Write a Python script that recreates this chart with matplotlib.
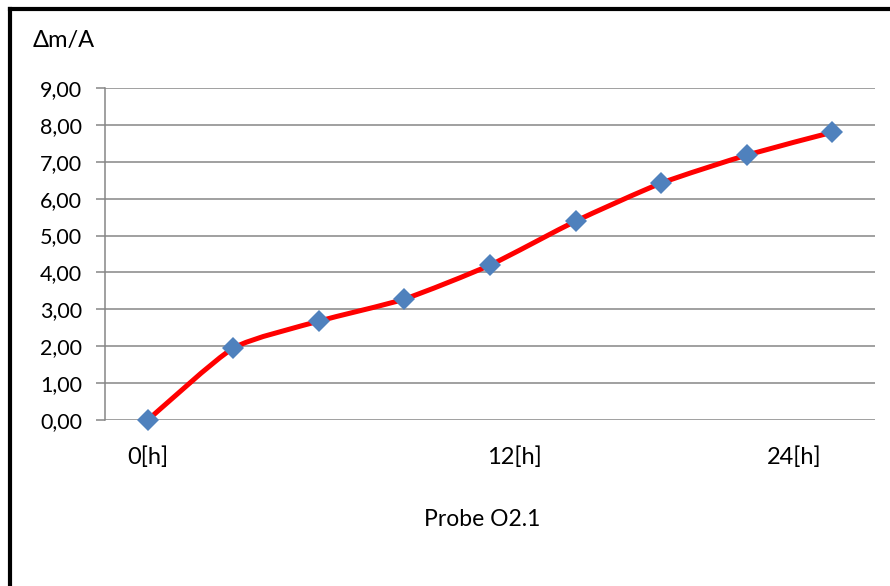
"""Mass gain per area over time, sample O2.1 (Excel-style smoothed line)."""

import matplotlib
matplotlib.use("Agg")
import matplotlib.pyplot as plt
import numpy as np
from matplotlib.path import Path
from matplotlib.patches import PathPatch
from matplotlib.lines import Line2D

# data
values = [0.00, 1.95, 2.68, 3.28, 4.20, 5.39, 6.42, 7.18, 7.80]
xtick_pos = [0, 4.29, 7.56]
xtick_labels = ["0[h]", "12[h]", "24[h]"]
yticks = [0, 1, 2, 3, 4, 5, 6, 7, 8, 9]
ytick_labels = [f"{v:.2f}".replace(".", ",") for v in yticks]

plt.rcParams["font.family"] = ["Lato", "DejaVu Sans"]

W, H = 890, 586
fig = plt.figure(figsize=(W / 100, H / 100), dpi=100)
ax = fig.add_axes([105 / W, (H - 420) / H, (875 - 105) / W, (420 - 88) / H])

x = np.arange(len(values))
y = np.array(values)

# gentle smoothing: cubic Bezier with Catmull-Rom style control points
k = 1 / 10
verts = [(x[0], y[0])]
codes = [Path.MOVETO]
n = len(x)
for i in range(n - 1):
    p0 = np.array([x[max(i - 1, 0)], y[max(i - 1, 0)]])
    p1 = np.array([x[i], y[i]])
    p2 = np.array([x[i + 1], y[i + 1]])
    p3 = np.array([x[min(i + 2, n - 1)], y[min(i + 2, n - 1)]])
    c1 = p1 + (p2 - p0) * k
    c2 = p2 - (p3 - p1) * k
    verts += [tuple(c1), tuple(c2), tuple(p2)]
    codes += [Path.CURVE4] * 3
ax.add_patch(PathPatch(Path(verts, codes), facecolor="none", edgecolor="#FF0000",
                       lw=3.6, capstyle="round", joinstyle="round", zorder=3,
                       clip_on=False))
ax.plot(x, y, linestyle="none", marker="D", ms=11.5, mew=0, color="#4F81BD",
        zorder=4, clip_on=False)

ax.set_xlim(-0.5, 8.5)
ax.set_ylim(0, 9)
ax.set_yticks(yticks)
ax.set_yticklabels(ytick_labels)
ax.set_xticks(xtick_pos)
ax.set_xticklabels(xtick_labels)
ax.tick_params(axis="y", length=6.5, width=1.1, color="#868686", pad=10, labelsize=15.5)
ax.tick_params(axis="x", length=0, pad=19, labelsize=17)
ax.grid(axis="y", color="#868686", lw=1.1)
ax.set_axisbelow(True)
for s in ["top", "right", "bottom"]:
    ax.spines[s].set_visible(False)
ax.spines["left"].set_color("#868686")
ax.spines["left"].set_linewidth(1.1)

fig.text(33 / W, (H - 41) / H, "Δm/A", fontsize=17, ha="left", va="center")
fig.text(482 / W, (H - 520) / H, "Probe O2.1", fontsize=16.5, ha="center", va="center")

# outer frame: only top and left edges are visible in the crop
fig.add_artist(Line2D([10 / W, 1.0], [(H - 9) / H] * 2, color="black", lw=3,
                      transform=fig.transFigure, solid_capstyle="projecting"))
fig.add_artist(Line2D([10 / W] * 2, [0, (H - 9) / H], color="black", lw=3,
                      transform=fig.transFigure, solid_capstyle="projecting"))

fig.savefig("out.png", dpi=100)
